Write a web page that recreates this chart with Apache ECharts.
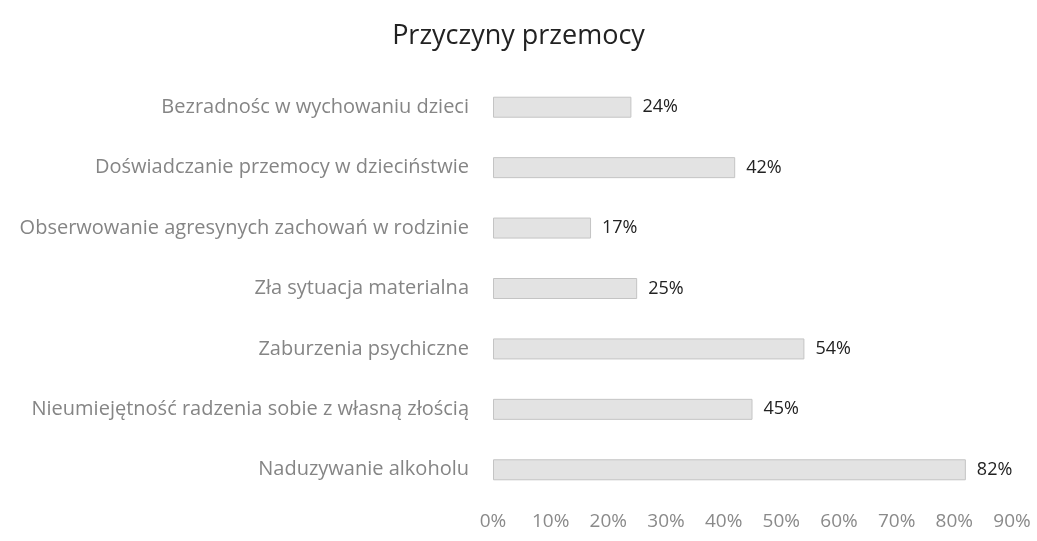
<!DOCTYPE html>
<html>
<head>
<meta charset="utf-8">
<script src="https://cdn.jsdelivr.net/npm/echarts@6/dist/echarts.min.js"></script>
<style>
  html, body { margin: 0; padding: 0; background: #fff; }
  #chart { width: 1037px; height: 541px; }
</style>
</head>
<body>
<div id="chart"></div>
<script>
// kategorie od góry
var categories = [
  'Bezradnośc w wychowaniu dzieci',
  'Doświadczanie przemocy w dzieciństwie',
  'Obserwowanie agresynych zachowań w rodzinie',
  'Zła sytuacja materialna',
  'Zaburzenia psychiczne',
  'Nieumiejętność radzenia sobie z własną złością',
  'Naduzywanie alkoholu'
]
// wartości w %
var values = [24, 42, 17, 25, 54, 45, 82]

var myChart = echarts.init(document.getElementById('chart'))
var option = {
  backgroundColor: '#fff',
  title: {
    text: 'Przyczyny przemocy',
    left: 'center',
    top: 18,
    textStyle: {
      fontFamily: 'Open Sans',
      fontSize: 27,
      fontWeight: 'normal',
      color: '#222'
    }
  },
  grid: {
    left: 493,
    right: 25,
    top: 77,
    bottom: 41
  },
  xAxis: {
    type: 'value',
    min: 0,
    max: 90,
    interval: 10,
    axisLine: { show: false },
    axisTick: { show: false },
    splitLine: { show: false },
    axisLabel: {
      formatter: '{value}%',
      color: '#8a8a8a',
      fontFamily: 'Open Sans',
      fontSize: 19,
      margin: 12
    }
  },
  yAxis: {
    type: 'category',
    inverse: true,
    data: categories,
    axisLine: { show: false },
    axisTick: { show: false },
    axisLabel: {
      color: '#858585',
      fontFamily: 'Open Sans',
      fontSize: 20,
      margin: 24
    }
  },
  series: [
    {
      type: 'bar',
      data: values,
      barWidth: 21,
      itemStyle: {
        color: '#e3e3e3',
        borderColor: '#c4c4c4',
        borderWidth: 1
      },
      label: {
        show: true,
        position: 'right',
        distance: 11,
        formatter: '{c}%',
        color: '#222',
        fontFamily: 'Open Sans',
        fontSize: 18
      }
    }
  ]
}
myChart.setOption(option)
window.addEventListener('resize', () => {
  myChart.resize()
})
</script>
</body>
</html>
